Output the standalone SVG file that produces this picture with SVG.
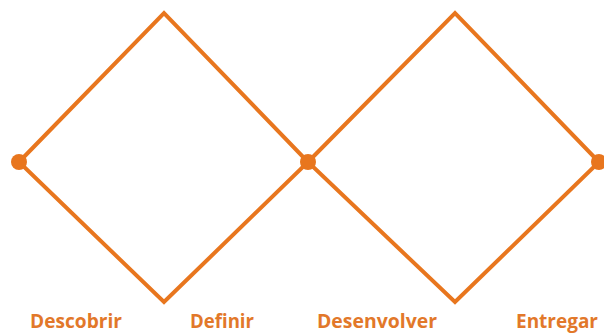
<svg xmlns="http://www.w3.org/2000/svg" width="604" height="333" viewBox="0 0 604 333">
<style>
.edge{fill:none;stroke:#E8761E;stroke-width:4;stroke-linejoin:miter}
.dot{fill:#E8761E}
.lbl{font-family:"Open Sans","Liberation Sans",sans-serif;font-weight:bold;font-size:19px;fill:#E2782A}
</style>
<rect width="604" height="333" fill="#fff"/>
<g id="connectors">
<polygon class="edge" points="19,162 164,13 308,162 164,302"/>
<polygon class="edge" points="308,162 455,13 599,162 455,302"/>
</g>
<g id="node-start"><circle class="dot" cx="19" cy="162" r="8"/></g>
<g id="node-mid"><circle class="dot" cx="308" cy="162" r="8"/></g>
<g id="node-end"><circle class="dot" cx="599" cy="162" r="8"/></g>
<g id="label-descobrir"><text class="lbl" x="30" y="328" textLength="92" lengthAdjust="spacingAndGlyphs">Descobrir</text></g>
<g id="label-definir"><text class="lbl" x="190" y="328" textLength="64" lengthAdjust="spacingAndGlyphs">Definir</text></g>
<g id="label-desenvolver"><text class="lbl" x="317" y="328" textLength="120" lengthAdjust="spacingAndGlyphs">Desenvolver</text></g>
<g id="label-entregar"><text class="lbl" x="516" y="328" textLength="82" lengthAdjust="spacingAndGlyphs">Entregar</text></g>
</svg>
